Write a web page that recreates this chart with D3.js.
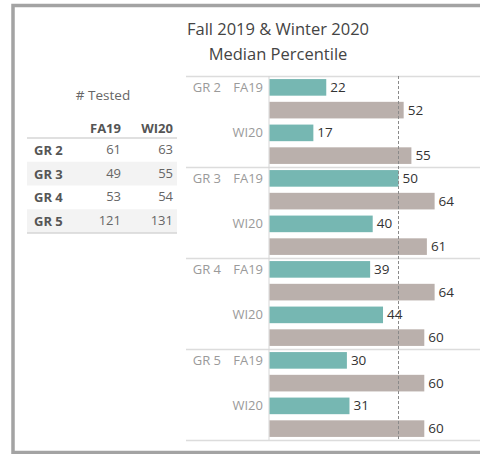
<!DOCTYPE html>
<html>
<head>
<meta charset="utf-8">
<script src="https://cdn.jsdelivr.net/npm/d3@7"></script>
<style>
  body { margin: 0; background: #fff; }
  svg { display: block; font-family: "Open Sans", sans-serif; }
</style>
</head>
<body>
<div id="chart"></div>
<script>
const grades = ["GR 2", "GR 3", "GR 4", "GR 5"];
const terms = ["FA19", "WI20"];
// teal = median percentile, grey = comparison
const medianFA19 = [22, 50, 39, 30];
const medianWI20 = [17, 40, 44, 31];
const compareFA19 = [52, 64, 64, 60];
const compareWI20 = [55, 61, 60, 60];
const testedFA19 = [61, 49, 53, 121];
const testedWI20 = [63, 55, 54, 131];
const refValue = 50;

const W = 480, H = 454;
const svg = d3.select("#chart").append("svg").attr("width", W).attr("height", H);

// frame
svg.append("rect").attr("x", 13).attr("y", 5.5).attr("width", 480).attr("height", 447)
  .attr("fill", "none").attr("stroke", "#a3a3a3").attr("stroke-width", 3.5);

// title
svg.append("text").attr("x", 278).attr("y", 35).attr("text-anchor", "middle")
  .attr("font-size", 16.5).attr("fill", "#444").text("Fall 2019 & Winter 2020");
svg.append("text").attr("x", 278).attr("y", 60).attr("text-anchor", "middle")
  .attr("font-size", 16.5).attr("fill", "#444").text("Median Percentile");

// build rows
const rows = [];
grades.forEach((g, i) => {
  rows.push({ grade: g, term: "FA19", kind: "median", value: medianFA19[i], sub: 0 });
  rows.push({ grade: g, term: "FA19", kind: "compare", value: compareFA19[i], sub: 1 });
  rows.push({ grade: g, term: "WI20", kind: "median", value: medianWI20[i], sub: 2 });
  rows.push({ grade: g, term: "WI20", kind: "compare", value: compareWI20[i], sub: 3 });
});

const yTop = 76, yBottom = 440, x0 = 269.5;
const gy = d3.scaleBand().domain(grades).range([yTop, yBottom]);
const sy = d3.scaleBand().domain([0, 1, 2, 3]).range([0, gy.bandwidth()])
  .paddingInner(0.27).paddingOuter(0.135);
const x = d3.scaleLinear().domain([0, 100]).range([x0, x0 + 258]);
const rowY = d => gy(d.grade) + sy(d.sub);

// separators
svg.append("g").selectAll("line").data(grades.concat(["end"])).join("line")
  .attr("x1", 186).attr("x2", W)
  .attr("y1", d => (d === "end" ? yBottom : gy(d)) + 0.5)
  .attr("y2", d => (d === "end" ? yBottom : gy(d)) + 0.5)
  .attr("stroke", "#dcdcdc").attr("stroke-width", 1.5);

// axis line
svg.append("line").attr("x1", x0 - 0.5).attr("x2", x0 - 0.5).attr("y1", yTop).attr("y2", yBottom)
  .attr("stroke", "#d6d6d6");

// bars
svg.append("g").selectAll("rect").data(rows).join("rect")
  .attr("x", x(0))
  .attr("y", rowY)
  .attr("width", d => x(d.value) - x(0))
  .attr("height", sy.bandwidth())
  .attr("fill", d => d.kind === "median" ? "#76b7b2" : "#bab0ac");

// reference line
svg.append("line").attr("x1", x(refValue)).attr("x2", x(refValue)).attr("y1", yTop).attr("y2", yBottom)
  .attr("stroke", "#8a8a8a").attr("stroke-dasharray", "3,2").attr("stroke-width", 1);

// value labels
svg.append("g").selectAll("text").data(rows).join("text")
  .attr("x", d => x(d.value) + 4)
  .attr("y", d => rowY(d) + sy.bandwidth() / 2 + 4.5)
  .attr("font-size", 13.5).attr("fill", "#333")
  .text(d => d.value);

// row labels
svg.append("g").selectAll("text").data(rows.filter(d => d.kind === "median")).join("text")
  .attr("x", 263).attr("text-anchor", "end")
  .attr("y", d => rowY(d) + sy.bandwidth() / 2 + 4.5)
  .attr("font-size", 13).attr("fill", "#9a9a9a")
  .text(d => d.term);
svg.append("g").selectAll("text").data(grades).join("text")
  .attr("x", 221).attr("text-anchor", "end")
  .attr("y", g => gy(g) + sy(0) + sy.bandwidth() / 2 + 4.5)
  .attr("font-size", 13).attr("fill", "#9a9a9a")
  .text(g => g);

// # Tested table
svg.append("text").attr("x", 103).attr("y", 100).attr("text-anchor", "middle")
  .attr("font-size", 13.5).attr("fill", "#666").text("# Tested");

const colX = { FA19: 121, WI20: 173 };
const ty = d3.scaleBand().domain(grades).range([138, 233]);

svg.append("g").selectAll("rect").data(grades.filter((g, i) => i % 2 === 1)).join("rect")
  .attr("x", 27).attr("width", 150).attr("y", g => ty(g)).attr("height", ty.bandwidth())
  .attr("fill", "#f3f3f3");

svg.append("g").selectAll("text").data(terms).join("text")
  .attr("x", t => colX[t]).attr("y", 133).attr("text-anchor", "end")
  .attr("font-size", 13).attr("font-weight", "bold").attr("fill", "#555").text(t => t);

svg.append("line").attr("x1", 27).attr("x2", 177).attr("y1", 138).attr("y2", 138)
  .attr("stroke", "#d6d6d6").attr("stroke-width", 1.5);
svg.append("line").attr("x1", 27).attr("x2", 177).attr("y1", 233).attr("y2", 233)
  .attr("stroke", "#d6d6d6").attr("stroke-width", 1.5);

svg.append("g").selectAll("text").data(grades).join("text")
  .attr("x", 34).attr("y", g => ty(g) + ty.bandwidth() / 2 + 5)
  .attr("font-size", 13).attr("font-weight", "bold").attr("fill", "#555").text(g => g);

const tested = { FA19: testedFA19, WI20: testedWI20 };
terms.forEach(t => {
  svg.append("g").selectAll("text").data(grades).join("text")
    .attr("x", colX[t]).attr("text-anchor", "end")
    .attr("y", g => ty(g) + ty.bandwidth() / 2 + 4)
    .attr("font-size", 13).attr("fill", "#666")
    .text((g, i) => tested[t][i]);
});
</script>
</body>
</html>
